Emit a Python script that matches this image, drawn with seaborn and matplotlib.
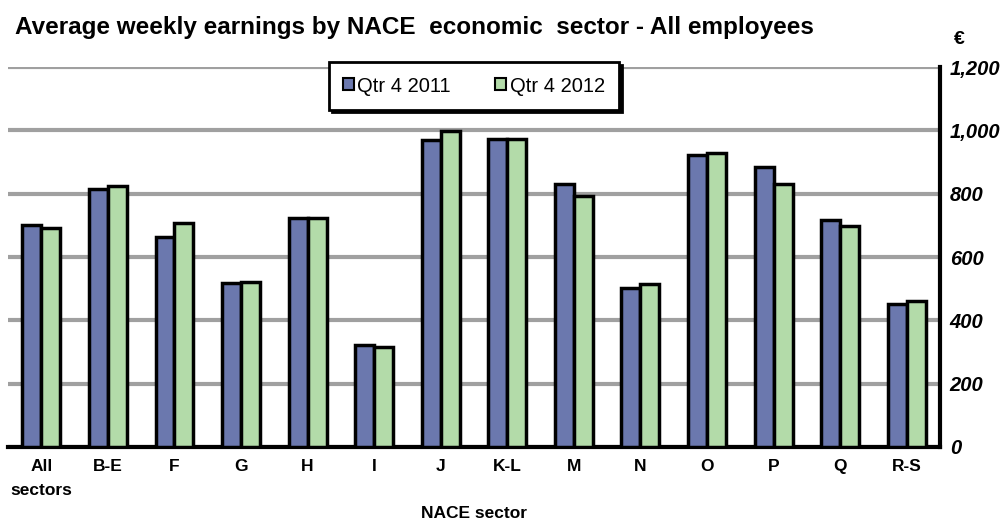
import matplotlib
matplotlib.use("Agg")
import matplotlib.pyplot as plt
import seaborn as sns
import pandas as pd
from matplotlib.ticker import FuncFormatter

sectors = ["All", "B-E", "F", "G", "H", "I", "J", "K-L", "M", "N", "O", "P", "Q", "R-S"]
q4_2011 = [700, 814, 662, 517, 722, 322, 968, 972, 832, 502, 921, 883, 716, 451]
q4_2012 = [692, 824, 707, 520, 722, 315, 997, 972, 792, 514, 930, 830, 697, 461]
series_names = ["Qtr 4 2011", "Qtr 4 2012"]
yticks = [0, 200, 400, 600, 800, 1000, 1200]

df = pd.DataFrame({
    "sector": sectors * 2,
    "value": q4_2011 + q4_2012,
    "period": [series_names[0]] * len(sectors) + [series_names[1]] * len(sectors),
})

sns.set_style("white")
plt.rcParams["font.family"] = ["Liberation Sans", "DejaVu Sans"]
plt.rcParams["text.color"] = "black"

fig = plt.figure(figsize=(10.08, 5.31), dpi=100)
ax = fig.add_axes([0.008, 0.1582, 0.9245, 0.7156])

palette = {series_names[0]: "#6B78AE", series_names[1]: "#B3DBA9"}
sns.barplot(data=df, x="sector", y="value", hue="period", palette=palette,
            edgecolor="black", linewidth=2.5, width=0.57, gap=0, ax=ax,
            saturation=1, errorbar=None, zorder=3)

ax.set_ylim(0, 1200)
ax.set_xlim(-0.5, len(sectors) - 0.5)
ax.set_yticks(yticks)
ax.yaxis.tick_right()
ax.yaxis.set_major_formatter(FuncFormatter(lambda v, p: f"{int(v):,}"))
for lab in ax.get_yticklabels():
    lab.set_fontweight("bold")
    lab.set_fontstyle("italic")
    lab.set_fontsize(14.5)
    lab.set_color("black")
ax.tick_params(axis="y", length=0, pad=7, colors="black")
ax.tick_params(axis="x", length=0, pad=9, colors="black")
for lab in ax.get_xticklabels():
    lab.set_fontweight("bold")
    lab.set_fontsize(12.5)
    lab.set_color("black")

ax.grid(axis="y", color="#A0A0A0", linewidth=3, zorder=0)
ax.set_axisbelow(True)
for s in ["left", "top"]:
    ax.spines[s].set_visible(False)
ax.spines["right"].set_color("black")
ax.spines["right"].set_linewidth(3)
ax.spines["bottom"].set_color("black")
ax.spines["bottom"].set_linewidth(3)

ax.set_xlabel("NACE sector", fontweight="bold", fontsize=12.5, labelpad=23, color="black")
ax.set_ylabel("")
ax.text(-0.47, -0.095, "sectors", transform=ax.get_xaxis_transform(),
        fontweight="bold", fontsize=12.5, ha="left", va="top", color="black")

fig.text(0.015, 0.949, "Average weekly earnings by NACE  economic  sector - All employees",
         fontweight="bold", fontsize=17.5, ha="left", va="center", color="black")
fig.text(0.946, 0.925, "€", fontweight="bold", fontsize=14, ha="left", va="center", color="black")

leg = ax.legend(loc="upper center", bbox_to_anchor=(0.5, 1.012), ncol=2,
                frameon=True, fancybox=False, shadow={"color": "black", "alpha": 1},
                handlelength=0.55, handleheight=0.55, handletextpad=0.15,
                columnspacing=2.2, fontsize=14.5, borderpad=0.7, borderaxespad=0,
                labelcolor="black")
leg.get_frame().set_edgecolor("black")
leg.get_frame().set_linewidth(2)
for h in leg.legend_handles:
    h.set_linewidth(1.5)

fig.savefig("out.png", dpi=100)
